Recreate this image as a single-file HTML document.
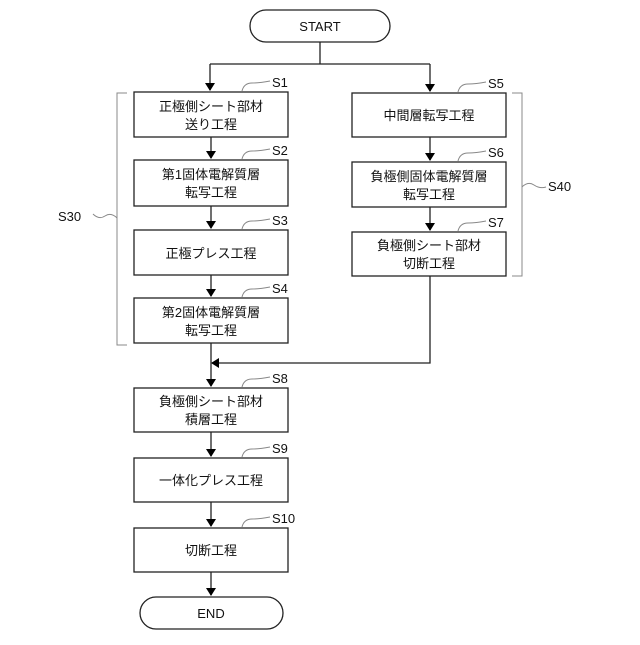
<!DOCTYPE html>
<html><head><meta charset="utf-8"><style>html,body{margin:0;background:#fff}</style></head><body>
<svg width="640" height="640" xmlns="http://www.w3.org/2000/svg" font-family="Liberation Sans, Noto Sans CJK JP, sans-serif">
<defs><marker id="a" markerWidth="8" markerHeight="10" refX="7" refY="5" orient="auto" markerUnits="userSpaceOnUse"><path d="M0,0 L8,5 L0,10 Z" fill="#000"/></marker></defs>
<g fill="none" stroke="#222" stroke-width="1.3">
<rect x="250" y="10" width="140" height="32" rx="16"/>
<rect x="140" y="597" width="143" height="32" rx="16"/>
<rect x="134" y="92" width="154" height="45"/>
<rect x="134" y="160" width="154" height="46"/>
<rect x="134" y="230" width="154" height="45"/>
<rect x="134" y="298" width="154" height="45"/>
<rect x="352" y="93" width="154" height="44"/>
<rect x="352" y="162" width="154" height="45"/>
<rect x="352" y="232" width="154" height="44"/>
<rect x="134" y="388" width="154" height="44"/>
<rect x="134" y="458" width="154" height="44"/>
<rect x="134" y="528" width="154" height="44"/>
<path d="M320 42 V64 M210 64 H430"/>
<path d="M210 64 V90" marker-end="url(#a)"/>
<path d="M430 64 V91" marker-end="url(#a)"/>
<path d="M211 137 V158" marker-end="url(#a)"/>
<path d="M211 206 V228" marker-end="url(#a)"/>
<path d="M211 275 V296" marker-end="url(#a)"/>
<path d="M430 137 V160" marker-end="url(#a)"/>
<path d="M430 207 V230" marker-end="url(#a)"/>
<path d="M430 276 V363 H212" marker-end="url(#a)"/>
<path d="M211 343 V386" marker-end="url(#a)"/>
<path d="M211 432 V456" marker-end="url(#a)"/>
<path d="M211 502 V526" marker-end="url(#a)"/>
<path d="M211 572 V595" marker-end="url(#a)"/>
</g>
<g fill="none" stroke="#888" stroke-width="1">
<path d="M127 93 H117 V345 H127"/>
<path d="M512 93 H522 V276 H512"/>
<path d="M117 218 q-6 -6 -12 -2 t-12 -2"/>
<path d="M522 187 q6 -6 12 -2 t12 2"/>
<path d="M242 91 q2 -8 10 -8 t18 -2"/>
<path d="M242 159 q2 -8 10 -8 t18 -2"/>
<path d="M242 229 q2 -8 10 -8 t18 -2"/>
<path d="M242 297 q2 -8 10 -8 t18 -2"/>
<path d="M458 92 q2 -8 10 -8 t18 -2"/>
<path d="M458 161 q2 -8 10 -8 t18 -2"/>
<path d="M458 231 q2 -8 10 -8 t18 -2"/>
<path d="M242 387 q2 -8 10 -8 t18 -2"/>
<path d="M242 457 q2 -8 10 -8 t18 -2"/>
<path d="M242 527 q2 -8 10 -8 t18 -2"/>
</g>
<g font-size="13" fill="#111" text-anchor="middle">
<text x="320" y="31">START</text>
<text x="211" y="618">END</text>
<text x="211" y="111">正極側シート部材</text><text x="211" y="129">送り工程</text>
<text x="211" y="179">第1固体電解質層</text><text x="211" y="197">転写工程</text>
<text x="211" y="258">正極プレス工程</text>
<text x="211" y="317">第2固体電解質層</text><text x="211" y="335">転写工程</text>
<text x="429" y="120">中間層転写工程</text>
<text x="429" y="181">負極側固体電解質層</text><text x="429" y="199">転写工程</text>
<text x="429" y="250">負極側シート部材</text><text x="429" y="268">切断工程</text>
<text x="211" y="406">負極側シート部材</text><text x="211" y="424">積層工程</text>
<text x="211" y="485">一体化プレス工程</text>
<text x="211" y="555">切断工程</text>
</g>
<g font-size="13" fill="#111">
<text x="272" y="87">S1</text><text x="272" y="155">S2</text><text x="272" y="225">S3</text><text x="272" y="293">S4</text>
<text x="488" y="88">S5</text><text x="488" y="157">S6</text><text x="488" y="227">S7</text>
<text x="272" y="383">S8</text><text x="272" y="453">S9</text><text x="272" y="523">S10</text>
<text x="58" y="221">S30</text><text x="548" y="191">S40</text>
</g>
</svg>
</body></html>
